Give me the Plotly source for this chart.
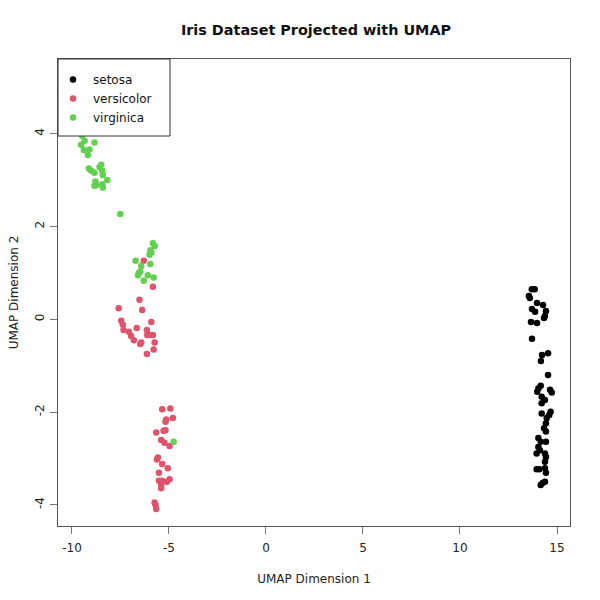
import plotly.graph_objects as go

# ---- data ----
setosa_x = [13.70, 13.85, 13.55, 13.60, 13.97, 14.28, 13.71, 13.87, 14.43, 14.38, 14.33, 13.66, 13.97,
            13.71, 14.54, 14.23, 14.17, 14.54, 14.16, 14.04, 13.98, 14.64, 14.73, 14.21, 14.38, 14.21,
            14.67, 14.60, 14.21, 14.47, 14.43, 14.33, 14.43, 14.04, 14.16, 14.43, 14.04, 14.12, 13.95,
            14.38, 14.43, 14.38, 13.95, 14.09, 14.38, 14.43, 14.26, 14.16, 14.38]
setosa_y = [0.65, 0.65, 0.50, 0.46, 0.35, 0.31, 0.22, 0.16, 0.18, 0.07, 0.03, -0.06, -0.08,
            -0.42, -0.73, -0.77, -0.90, -1.20, -1.43, -1.49, -1.56, -1.52, -1.58, -1.67, -1.74, -1.81,
            -1.99, -2.06, -2.03, -2.13, -2.24, -2.35, -2.42, -2.56, -2.64, -2.64, -2.75, -2.82, -2.89,
            -2.89, -2.97, -3.07, -3.23, -3.23, -3.21, -3.31, -3.53, -3.57, -3.50]

versicolor_x = [-6.30, -5.83, -6.52, -7.59, -6.38, -7.46, -7.38, -7.34, -5.91, -6.66, -7.07, -6.95,
                -6.81, -6.14, -6.00, -5.83, -6.12, -6.43, -6.48, -5.74, -5.79, -6.14,
                -5.35, -4.93, -5.14, -5.18, -4.80, -5.18, -5.28, -5.66, -5.40, -5.23, -4.97,
                -5.57, -5.62, -5.35, -5.06, -5.52, -5.52, -5.35, -5.11, -4.97, -5.40, -5.40,
                -5.74, -5.69, -5.66]
versicolor_y = [1.26, 0.70, 0.42, 0.24, 0.20, -0.03, -0.12, -0.23, -0.06, -0.19, -0.27, -0.36,
                -0.45, -0.23, -0.34, -0.34, -0.34, -0.50, -0.53, -0.50, -0.65, -0.75,
                -1.94, -1.92, -2.16, -2.21, -2.13, -2.39, -2.40, -2.44, -2.60, -2.66, -2.73,
                -2.98, -3.02, -3.12, -3.21, -3.31, -3.48, -3.48, -3.50, -3.45, -3.57, -3.64,
                -3.95, -4.00, -4.09]

virginica_x = [-9.47, -9.35, -9.53, -8.84, -9.39, -9.10, -9.18, -9.13, -9.01, -8.84, -8.49, -8.58,
               -8.44, -8.41, -8.18, -8.79, -8.84, -8.75, -8.44, -8.41, -7.51,
               -5.83, -5.74, -5.96, -5.91, -6.00, -6.72, -5.96, -6.43, -6.48, -6.60, -6.55,
               -6.09, -5.79, -6.30, -4.76]
virginica_y = [3.95, 3.85, 3.76, 3.81, 3.65, 3.66, 3.54, 3.25, 3.20, 3.16, 3.33, 3.28,
               3.20, 3.11, 3.00, 2.97, 2.88, 2.89, 2.91, 2.84, 2.27,
               1.64, 1.58, 1.49, 1.44, 1.39, 1.26, 1.19, 1.15, 1.03, 0.95, 1.00,
               0.95, 0.90, 0.83, -2.64]

x_ticks = [-10, -5, 0, 5, 10, 15]
x_ticktext = ["-10", "-5", "0", "5", "10", "15"]
y_ticks = [-4, -2, 0, 2, 4]
y_ticktext = ["-4", "-2", "0", "2", "4"]

FONT = "DejaVu Sans"
series = [
    ("setosa", setosa_x, setosa_y, "#000000"),
    ("versicolor", versicolor_x, versicolor_y, "#DF536B"),
    ("virginica", virginica_x, virginica_y, "#61D04F"),
]

fig = go.Figure()
for name, xs, ys, col in series:
    fig.add_trace(go.Scatter(
        x=xs, y=ys, mode="markers", name=name,
        marker=dict(color=col, size=6.5, line=dict(width=0)),
    ))

axis_common = dict(
    showgrid=False, zeroline=False, showline=True, linecolor="#555555", linewidth=1,
    mirror=True, ticks="outside", ticklen=7, tickcolor="#777777", tickwidth=1,
    tickfont=dict(family=FONT, size=12, color="#222222"), automargin=False,
)

# plot area in px: x 58..570, y 59..526
PW, PH = 512, 467
legend_box = dict(type="rect", xref="paper", yref="paper", layer="above",
                  x0=0, x1=(170 - 58) / PW, y0=1 - (136 - 59) / PH, y1=1,
                  fillcolor="white", line=dict(color="#333333", width=1))

fig.update_layout(
    width=600, height=600,
    margin=dict(l=58, r=30, t=59, b=74, autoexpand=False),
    paper_bgcolor="white", plot_bgcolor="white",
    font=dict(family=FONT, size=12, color="#222222"),
    title=dict(text="<b>Iris Dataset Projected with UMAP</b>", x=316 / 600, xref="container",
               y=1 - 30 / 600, yref="container", yanchor="middle", xanchor="center",
               automargin=False,
               font=dict(family=FONT, size=14.4, color="#111111")),
    xaxis=dict(range=[-10.72, 15.67], tickvals=x_ticks, ticktext=x_ticktext,
               ticklabelstandoff=4,
               title=dict(text="UMAP Dimension 1", standoff=20,
                          font=dict(family=FONT, size=12, color="#222222")),
               **axis_common),
    yaxis=dict(range=[-4.455, 5.61], tickvals=y_ticks, ticktext=y_ticktext, tickangle=-90,
               ticklabelstandoff=1,
               title=dict(text="UMAP Dimension 2", standoff=12,
                          font=dict(family=FONT, size=12, color="#222222")),
               **axis_common),
    shapes=[legend_box],
    legend=dict(x=(53 - 58) / PW, y=1 - (65 - 59) / PH, xanchor="left", yanchor="top",
                bgcolor="rgba(0,0,0,0)", borderwidth=0,
                font=dict(family=FONT, size=12, color="#111111")),
    showlegend=True,
)

fig.write_html("out.html", post_script="document.body.style.margin='0px';",
               config={"displayModeBar": False})
